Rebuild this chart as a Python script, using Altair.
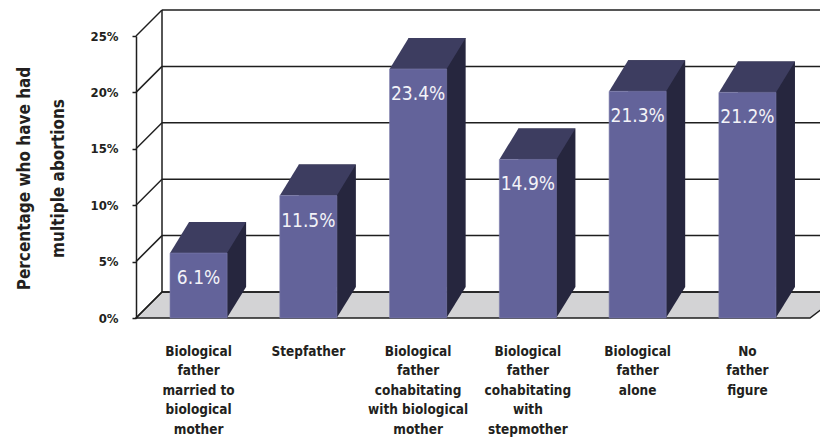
import altair as alt
import pandas as pd

# ---------------- data ----------------
categories = [
    "Biological\nfather\nmarried to\nbiological\nmother",
    "Stepfather",
    "Biological\nfather\ncohabitating\nwith biological\nmother",
    "Biological\nfather\ncohabitating\nwith\nstepmother",
    "Biological\nfather\nalone",
    "No\nfather\nfigure",
]
values = [6.1, 11.5, 23.4, 14.9, 21.3, 21.2]
value_labels = ["6.1%", "11.5%", "23.4%", "14.9%", "21.3%", "21.2%"]
tick_values = [0, 5, 10, 15, 20, 25]
y_title = ["Percentage who have had", "multiple abortions"]

# ---------------- styling ----------------
W, H = 674, 282
WALL_DX, WALL_DY = 26, 26
BAR_DX, BAR_DY = 19, 31
BAR_HALF = 28.5

FRONT = "#63639a"
TOP = "#3d3d60"
SIDE = "#26263e"
FLOOR = "#d3d3d5"
LINE = "#1e1e1e"
TEXT = "#231f20"
FONT = "DejaVu Sans Condensed, Liberation Sans Narrow, sans-serif"


def shape_path(points, s):
    return "M " + " L ".join(f"{x / s:.5f} {y / s:.5f}" for x, y in points) + " Z"


bars = pd.DataFrame({"cat": categories, "value": values, "label": value_labels})
ticks = pd.DataFrame({"tick": tick_values})

axis_scale = alt.Scale(domain=[0, 25], nice=False, zero=True)
bar_scale = alt.Scale(domain=[0, 26.5], nice=False, zero=True)
x_scale = alt.Scale(paddingInner=0.48, paddingOuter=0.31)

x_axis = alt.Axis(
    labelExpr="split(datum.label, '\\n')", domain=False, ticks=False, grid=False,
    labelAngle=0, labelFont=FONT, labelFontWeight="bold", labelFontSize=13.5,
    labelColor=TEXT, labelLineHeight=19.5, labelPadding=26, labelBaseline="top",
    labelAlign="center", labelLimit=0, title=None,
)
x_enc = alt.X("cat:N", sort=categories, scale=x_scale, axis=x_axis)

# floor parallelogram
FS = 400
floor_path = shape_path(
    [(-W / 2 - WALL_DX / 2, WALL_DY / 2), (W / 2 - WALL_DX / 2, WALL_DY / 2),
     (W / 2 + WALL_DX / 2 + 8, -WALL_DY / 2), (-W / 2 + WALL_DX / 2, -WALL_DY / 2)], FS)
floor = alt.Chart(ticks).transform_filter("datum.tick == 0").mark_point(
    shape=floor_path, size=(2 * FS) ** 2, filled=True, fill=FLOOR, stroke=LINE,
    strokeWidth=1.5, opacity=1, yOffset=-WALL_DY / 2
).encode(
    x=alt.value(W / 2 + WALL_DX / 2),
    y=alt.Y("tick:Q", scale=axis_scale, axis=None),
)

# back wall grid lines (carry the front y axis)
back_grid = alt.Chart(ticks).mark_rule(color=LINE, strokeWidth=1.5, yOffset=-WALL_DY).encode(
    y=alt.Y(
        "tick:Q", scale=axis_scale,
        axis=alt.Axis(
            values=tick_values, labelExpr="datum.value + '%'", grid=False,
            domain=True, domainColor=LINE, domainWidth=1.5,
            ticks=True, tickSize=4, tickColor=LINE, tickWidth=1.5,
            labelFont=FONT, labelFontWeight="bold", labelFontSize=13, labelColor=TEXT,
            labelPadding=14,
            title=y_title, titleFont=FONT, titleFontWeight="bold", titleFontSize=17,
            titleColor=TEXT, titleLineHeight=34, titleAngle=270, titleAlign="center",
            titleBaseline="middle", titleX=-112, titleY=142,
        ),
    ),
    x=alt.value(WALL_DX),
    x2=alt.value(W + WALL_DX + 20),
)

back_wall = alt.Chart(ticks).transform_aggregate(
    lo="min(tick)", hi="max(tick)"
).mark_rule(color=LINE, strokeWidth=1.5, yOffset=-WALL_DY, y2Offset=-WALL_DY).encode(
    y=alt.Y("hi:Q", scale=axis_scale, axis=None),
    y2="lo:Q",
    x=alt.value(WALL_DX),
)

diagonals = alt.Chart(ticks).mark_rule(color=LINE, strokeWidth=1.5, y2Offset=-WALL_DY).encode(
    y=alt.Y("tick:Q", scale=axis_scale, axis=None),
    y2="tick:Q",
    x=alt.value(0),
    x2=alt.value(WALL_DX),
)

# 3D bars
BS = 50

side = alt.Chart(bars).mark_bar(
    color=SIDE, xOffset=BAR_DX, yOffset=-BAR_DY, y2Offset=-BAR_DY
).encode(
    x=x_enc,
    y=alt.Y("value:Q", scale=bar_scale, axis=None),
    y2=alt.datum(0),
)

tri_path = shape_path([(BAR_HALF - 0.5, 0.5), (BAR_HALF + BAR_DX, -BAR_DY),
                       (BAR_HALF - 0.5, -BAR_DY)], BS)
side_bottom = alt.Chart(bars).transform_calculate(base="0").mark_point(
    shape=tri_path, size=(2 * BS) ** 2, filled=True, fill=SIDE, opacity=1, strokeWidth=0
).encode(
    x=x_enc,
    y=alt.Y("base:Q", scale=bar_scale, axis=None),
)

top_path = shape_path([(-BAR_HALF, 0), (BAR_HALF, 0), (BAR_HALF + BAR_DX, -BAR_DY),
                       (-BAR_HALF + BAR_DX, -BAR_DY)], BS)
top = alt.Chart(bars).mark_point(
    shape=top_path, size=(2 * BS) ** 2, filled=True, fill=TOP, opacity=1, strokeWidth=0
).encode(
    x=x_enc,
    y=alt.Y("value:Q", scale=bar_scale, axis=None),
)

front = alt.Chart(bars).mark_bar(color=FRONT, stroke="#7c7cab", strokeWidth=0.6).encode(
    x=x_enc,
    y=alt.Y("value:Q", scale=bar_scale, axis=None),
)

texts = alt.Chart(bars).mark_text(
    dy=25, font=FONT, fontSize=19, color="#f3f3f8", baseline="middle", align="center"
).encode(
    x=x_enc,
    y=alt.Y("value:Q", scale=bar_scale, axis=None),
    text="label:N",
)

chart = alt.layer(
    floor, back_grid, back_wall, diagonals, side, side_bottom, top, front, texts
).resolve_scale(y="independent").properties(
    width=W, height=H,
    background="white",
    autosize=alt.AutoSizeParams(type="none"),
    padding={"left": 128, "top": 28, "right": 10, "bottom": 121},
).configure_view(stroke=None, strokeWidth=0)

chart.save("out.html", embed_options={"renderer": "svg", "actions": False})
